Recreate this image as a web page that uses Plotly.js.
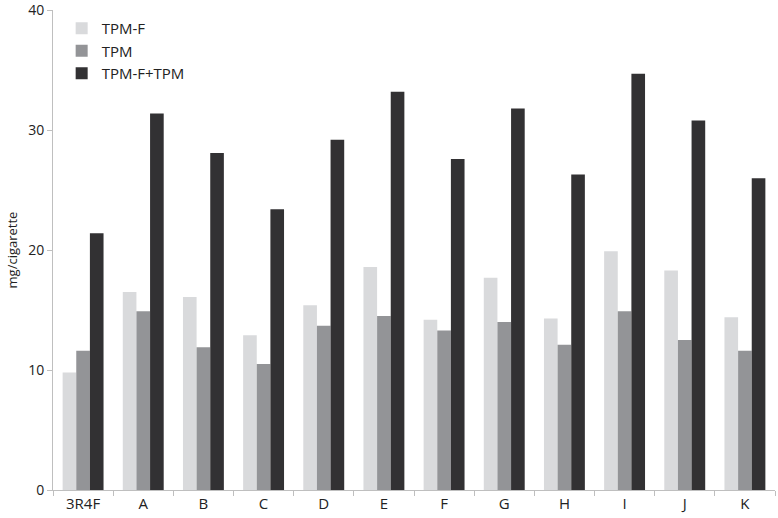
<!DOCTYPE html>
<html>
<head>
<meta charset="utf-8">
<script src="https://cdn.plot.ly/plotly-3.0.1.min.js"></script>
<style>html,body{margin:0;padding:0;background:#fff;}#chart{width:778px;height:518px;}</style>
</head>
<body>
<div id="chart"></div>
<script>
var categories = ["3R4F","A","B","C","D","E","F","G","H","I","J","K"];
var tpmF = [9.8, 16.5, 16.1, 12.9, 15.4, 18.6, 14.2, 17.7, 14.3, 19.9, 18.3, 14.4];
var tpm = [11.6, 14.9, 11.9, 10.5, 13.7, 14.5, 13.3, 14.0, 12.1, 14.9, 12.5, 11.6];
var tpmSum = [21.4, 31.4, 28.1, 23.4, 29.2, 33.2, 27.6, 31.8, 26.3, 34.7, 30.8, 26.0];
var seriesNames = ["TPM-F", "TPM", "TPM-F+TPM"];
var yTicks = [0, 10, 20, 30, 40];

var colors = ["#d9dadc", "#939497", "#323133"];
var seriesData = [tpmF, tpm, tpmSum];
var traces = seriesData.map(function(d, i){
  return {type:"bar", x:categories, y:d, name:seriesNames[i],
    marker:{color:colors[i], line:{width:0}}, hoverinfo:"x+y"};
});

var layout = {
  width:778, height:518,
  margin:{l:53, r:3, t:10, b:28},
  paper_bgcolor:"#fff", plot_bgcolor:"#fff",
  barmode:"group", bargap:0.32, bargroupgap:0,
  font:{family:"Open Sans, Liberation Sans, sans-serif", size:15, color:"#222"},
  showlegend:true,
  legend:{x:0.012, y:0.996, xanchor:"left", yanchor:"top", bgcolor:"rgba(0,0,0,0)",
    font:{size:15, color:"#222"}, tracegroupgap:0, itemwidth:30},
  xaxis:{type:"category", tickson:"boundaries", ticks:"outside", ticklen:5, tickcolor:"#bfbfbf",
    showline:true, linecolor:"#bfbfbf", linewidth:1, showgrid:false, zeroline:false,
    tickfont:{size:15, color:"#222"}},
  yaxis:{range:[0,40.02], tickvals:yTicks, ticktext:yTicks.map(String), ticks:"outside", ticklen:5,
    tickcolor:"#bfbfbf", showline:true, linecolor:"#bfbfbf", linewidth:1, showgrid:false, zeroline:false,
    ticklabeloverflow:"allow",
    tickfont:{size:14, color:"#222"},
    title:{text:"mg/cigarette", font:{size:13, color:"#222"}, standoff:7}}
};
Plotly.newPlot("chart", traces, layout, {displayModeBar:false, staticPlot:true});
</script>
</body>
</html>
